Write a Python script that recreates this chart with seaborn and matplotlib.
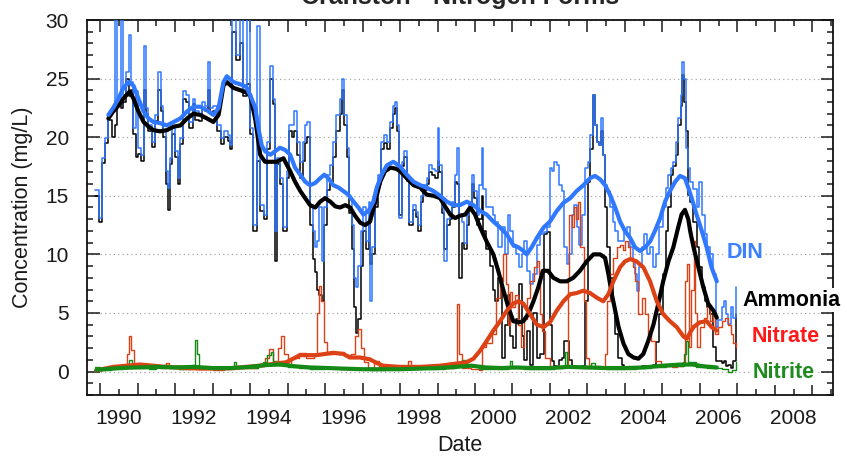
import numpy as np
import pandas as pd
import matplotlib
matplotlib.use("Agg")
import matplotlib.pyplot as plt
import seaborn as sns
from matplotlib.ticker import MultipleLocator, FixedLocator, FuncFormatter

# ---------------- data ----------------
sample_dates = [
    1989.37, 1989.48, 1989.55, 1989.64, 1989.72, 1989.81, 1989.90, 1989.96, 1990.05, 1990.12,
    1990.20, 1990.28, 1990.33, 1990.39, 1990.46, 1990.52, 1990.59, 1990.66, 1990.72, 1990.79,
    1990.88, 1990.97, 1991.04, 1991.12, 1991.19, 1991.25, 1991.31, 1991.37, 1991.43, 1991.50,
    1991.57, 1991.64, 1991.71, 1991.79, 1991.88, 1991.97, 1992.04, 1992.13, 1992.21, 1992.30,
    1992.37, 1992.44, 1992.52, 1992.63, 1992.72, 1992.81, 1992.90, 1992.97, 1993.02, 1993.12,
    1993.22, 1993.30, 1993.41, 1993.50, 1993.59, 1993.68, 1993.77, 1993.86, 1993.95, 1994.04,
    1994.11, 1994.17, 1994.23, 1994.30, 1994.39, 1994.48, 1994.55, 1994.62, 1994.68, 1994.75,
    1994.82, 1994.90, 1994.97, 1995.03, 1995.10, 1995.17, 1995.24, 1995.28, 1995.35, 1995.41,
    1995.48, 1995.55, 1995.62, 1995.71, 1995.80, 1995.89, 1995.95, 1996.01, 1996.08, 1996.15,
    1996.21, 1996.28, 1996.33, 1996.39, 1996.45, 1996.52, 1996.59, 1996.66, 1996.70, 1996.75,
    1996.84, 1996.92, 1996.99, 1997.06, 1997.15, 1997.24, 1997.31, 1997.37, 1997.43, 1997.48,
    1997.55, 1997.61, 1997.68, 1997.75, 1997.84, 1997.93, 1997.99, 1998.05, 1998.12, 1998.21,
    1998.28, 1998.35, 1998.44, 1998.50, 1998.55, 1998.62, 1998.68, 1998.75, 1998.82, 1998.89,
    1998.97, 1999.03, 1999.08, 1999.15, 1999.21, 1999.28, 1999.35, 1999.42, 1999.48, 1999.55,
    1999.62, 1999.68, 1999.72, 1999.80, 1999.90, 1999.97, 2000.03, 2000.12, 2000.21, 2000.30,
    2000.37, 2000.44, 2000.51, 2000.60, 2000.68, 2000.75, 2000.81, 2000.88, 2000.97, 2001.06,
    2001.15, 2001.24, 2001.33, 2001.41, 2001.49, 2001.55, 2001.61, 2001.68, 2001.75, 2001.82,
    2001.88, 2001.95, 2002.02, 2002.08, 2002.14, 2002.21, 2002.28, 2002.35, 2002.44, 2002.52,
    2002.58, 2002.64, 2002.70, 2002.75, 2002.80, 2002.86, 2002.91, 2002.97, 2003.03, 2003.10,
    2003.17, 2003.24, 2003.32, 2003.41, 2003.48, 2003.55, 2003.64, 2003.71, 2003.76, 2003.81,
    2003.88, 2003.95, 2004.01, 2004.08, 2004.17, 2004.26, 2004.33, 2004.42, 2004.51, 2004.60,
    2004.66, 2004.72, 2004.79, 2004.86, 2004.92, 2004.99, 2005.03, 2005.08, 2005.13, 2005.19,
    2005.24, 2005.32, 2005.41, 2005.48, 2005.55, 2005.64, 2005.70, 2005.77, 2005.86, 2005.93,
    2005.99, 2006.08, 2006.14, 2006.20, 2006.26, 2006.32, 2006.39, 2006.46,
]

din_raw = [
    15.5, 13.1, 18.2, 19.9, 21.9, 22.2, 31.0, 23.3, 31.0, 23.6,
    25.6, 28.7, 24.7, 20.8, 23.9, 19.1, 18.5, 27.8, 22.5, 21.0,
    19.6, 21.9, 25.6, 22.7, 20.5, 17.1, 15.7, 18.2, 20.8, 18.8,
    16.5, 19.9, 23.9, 23.6, 21.3, 23.3, 22.2, 21.9, 23.0, 22.7,
    26.4, 22.5, 22.7, 21.0, 19.9, 20.5, 20.2, 19.3, 31.0, 27.0,
    31.0, 24.0, 31.0, 20.8, 12.5, 29.5, 14.2, 13.4, 19.6, 26.1,
    23.3, 12.0, 18.2, 16.5, 12.3, 17.1, 21.0, 21.0, 22.2, 19.6,
    17.9, 19.6, 21.0, 21.3, 14.2, 12.0, 10.6, 11.1, 14.0, 9.4,
    14.0, 16.8, 17.6, 19.6, 21.9, 23.3, 25.0, 21.9, 19.1, 14.8,
    12.5, 8.0, 7.2, 9.0, 12.0, 14.0, 11.1, 14.5, 6.0, 10.6,
    14.8, 16.8, 19.6, 20.2, 19.6, 21.3, 22.7, 23.0, 21.0, 13.1,
    17.9, 18.8, 16.8, 12.8, 14.2, 13.6, 12.5, 15.0, 15.9, 16.5,
    17.6, 17.3, 17.1, 20.8, 17.6, 14.0, 9.4, 13.0, 13.6, 14.5,
    16.8, 19.1, 13.4, 12.8, 11.0, 13.4, 14.5, 16.8, 15.4, 13.4,
    15.9, 19.1, 15.6, 14.0, 14.0, 13.4, 12.8, 10.6, 12.3, 10.0,
    13.4, 12.0, 10.6, 10.0, 8.9, 10.0, 11.1, 8.6, 7.5, 8.3,
    10.8, 11.7, 11.9, 12.3, 17.4, 17.1, 17.9, 17.6, 15.9, 15.4,
    10.6, 9.2, 10.0, 13.4, 14.2, 12.3, 10.8, 13.4, 17.4, 17.9,
    20.2, 23.6, 21.0, 19.6, 19.3, 21.6, 18.5, 15.9, 15.4, 14.0,
    12.8, 12.0, 11.1, 11.1, 12.0, 12.3, 10.6, 9.4, 8.3, 6.9,
    8.9, 10.6, 11.7, 10.0, 10.6, 8.9, 10.0, 12.3, 14.0, 15.7,
    16.8, 17.4, 17.9, 19.6, 21.6, 23.6, 26.4, 25.0, 19.1, 17.4,
    16.2, 15.6, 14.0, 16.2, 13.4, 11.7, 10.6, 10.0, 8.3, 3.8,
    4.4, 5.5, 6.0, 4.9, 4.1, 5.5, 4.6, 7.2,
]

nh4_raw = [
    15.0, 12.8, 17.8, 19.5, 21.5, 20.0, 21.0, 22.8, 22.5, 23.0,
    25.0, 23.5, 24.0, 20.3, 18.3, 18.6, 18.0, 24.0, 22.0, 20.5,
    19.2, 21.4, 24.0, 22.2, 20.0, 16.0, 13.8, 17.7, 20.3, 18.3,
    16.0, 19.4, 23.3, 23.0, 20.8, 22.8, 21.5, 21.4, 22.5, 22.2,
    24.0, 22.0, 22.2, 20.5, 19.4, 20.0, 19.7, 19.0, 29.0, 26.6,
    28.0, 23.5, 24.5, 20.3, 12.0, 18.0, 13.7, 13.0, 19.0, 25.0,
    22.8, 9.4, 17.7, 16.0, 12.0, 16.5, 20.5, 20.0, 20.5, 18.5,
    16.5, 18.0, 19.5, 20.0, 12.5, 9.6, 8.5, 7.0, 6.5, 6.0,
    12.5, 15.5, 16.2, 18.3, 20.5, 22.0, 24.0, 21.0, 18.3, 13.5,
    10.5, 5.5, 3.3, 4.5, 9.0, 12.0, 10.5, 13.0, 9.2, 10.0,
    14.0, 16.0, 19.0, 19.5, 19.0, 20.8, 22.0, 22.5, 20.5, 13.4,
    17.5, 18.3, 16.3, 12.5, 13.8, 13.2, 12.0, 14.5, 15.5, 16.0,
    17.0, 16.8, 16.5, 18.0, 17.0, 13.5, 10.5, 12.5, 13.0, 14.0,
    16.2, 16.0, 8.0, 11.0, 10.5, 12.5, 13.8, 16.0, 14.8, 12.5,
    13.0, 15.0, 12.0, 10.5, 9.0, 7.0, 6.0, 8.0, 1.2, 4.0,
    6.5, 3.0, 2.0, 4.5, 7.5, 3.0, 1.0, 3.5, 0.6, 5.0,
    1.2, 1.5, 11.7, 11.9, 4.0, 0.9, 0.5, 0.4, 1.0, 1.2,
    2.6, 2.6, 1.0, 0.5, 0.3, 0.3, 0.3, 0.5, 6.0, 16.2,
    19.0, 23.6, 21.0, 19.6, 19.3, 20.5, 18.5, 14.0, 10.6, 8.0,
    5.8, 3.2, 1.2, 0.6, 0.4, 0.3, 0.3, 0.3, 0.3, 0.3,
    0.4, 0.5, 0.5, 0.4, 0.5, 0.6, 2.5, 4.9, 8.3, 12.0,
    14.0, 16.8, 17.5, 18.5, 21.0, 22.7, 25.3, 23.0, 20.5, 15.1,
    14.5, 12.8, 10.6, 8.9, 7.2, 6.0, 5.5, 4.9, 2.1, 0.9,
    0.9, 0.7, 0.9, 0.5, 0.6, 0.3, 0.9, 4.9,
]

no3_dates = [
    1989.37, 1989.60, 1989.85, 1990.10, 1990.22, 1990.27, 1990.33, 1990.40, 1990.60, 1990.90,
    1991.10, 1991.25, 1991.35, 1991.60, 1991.90, 1992.20, 1992.50, 1992.80, 1993.10, 1993.40,
    1993.70, 1993.90, 1994.00, 1994.10, 1994.25, 1994.33, 1994.40, 1994.50, 1994.60, 1994.80,
    1995.00, 1995.20, 1995.28, 1995.33, 1995.40, 1995.47, 1995.55, 1995.75, 1996.00, 1996.20,
    1996.30, 1996.38, 1996.45, 1996.55, 1996.65, 1996.80, 1996.95, 1997.20, 1997.50, 1997.72,
    1997.80, 1998.10, 1998.40, 1998.70, 1998.95, 1999.03, 1999.08, 1999.15, 1999.40, 1999.60,
    1999.68, 1999.80, 1999.95, 2000.05, 2000.17, 2000.26, 2000.32, 2000.38, 2000.43, 2000.50,
    2000.58, 2000.66, 2000.72, 2000.80, 2000.88, 2000.97, 2001.08, 2001.15, 2001.20, 2001.24,
    2001.30, 2001.38, 2001.50, 2001.70, 2001.90, 2001.98, 2002.02, 2002.08, 2002.14, 2002.20,
    2002.26, 2002.31, 2002.40, 2002.46, 2002.55, 2002.70, 2002.85, 2002.97, 2003.03, 2003.10,
    2003.19, 2003.28, 2003.37, 2003.44, 2003.50, 2003.57, 2003.64, 2003.71, 2003.77, 2003.86,
    2003.95, 2004.03, 2004.12, 2004.20, 2004.30, 2004.45, 2004.60, 2004.75, 2004.90, 2005.05,
    2005.10, 2005.15, 2005.20, 2005.26, 2005.33, 2005.37, 2005.42, 2005.50, 2005.60, 2005.68,
    2005.76, 2005.84, 2005.90, 2005.99, 2006.08, 2006.17, 2006.26, 2006.32, 2006.39, 2006.46,
]
no3_raw = [
    0.1, 0.2, 0.3, 0.4, 1.5, 3.0, 1.8, 0.5, 0.6, 0.4,
    0.3, 0.7, 0.4, 0.2, 0.3, 0.2, 0.1, 0.2, 0.3, 0.3,
    0.5, 1.2, 1.9, 0.8, 2.0, 3.0, 1.5, 0.5, 1.2, 1.6,
    1.2, 1.5, 5.0, 7.3, 6.0, 2.5, 1.5, 1.7, 1.4, 1.5,
    3.0, 3.6, 2.0, 0.8, 0.3, 0.9, 0.4, 0.2, 0.3, 0.9,
    0.3, 0.3, 0.4, 0.3, 0.6, 5.8, 1.5, 0.3, 0.2, 0.1,
    2.1, 2.4, 3.2, 6.3, 7.7, 10.0, 7.5, 4.0, 6.8, 5.5,
    6.5, 4.0, 2.1, 4.5, 6.3, 7.7, 8.9, 9.4, 8.3, 4.9,
    3.5, 1.2, 0.4, 0.5, 0.6, 8.0, 13.4, 12.3, 14.0, 13.0,
    14.5, 10.6, 6.0, 1.2, 0.4, 0.5, 0.4, 1.5, 6.0, 8.3,
    9.7, 10.6, 10.8, 10.4, 11.1, 10.6, 9.7, 8.9, 7.7, 4.9,
    6.3, 4.9, 3.2, 2.6, 0.9, 0.6, 0.5, 0.4, 0.5, 0.8,
    7.7, 9.2, 2.1, 7.0, 11.1, 5.0, 2.1, 3.8, 4.6, 5.5,
    4.3, 4.9, 3.2, 3.8, 4.3, 4.6, 4.0, 3.2, 2.4, 2.1,
]

no2_dates = [
    1989.37, 1989.50, 1989.80, 1990.10, 1990.22, 1990.28, 1990.35, 1990.50, 1990.80, 1991.00,
    1991.20, 1991.35, 1991.60, 1991.95, 1992.02, 1992.08, 1992.15, 1992.40, 1992.70, 1993.00,
    1993.07, 1993.12, 1993.40, 1993.70, 1993.85, 1993.95, 1994.05, 1994.12, 1994.25, 1994.50,
    1994.80, 1995.10, 1995.50, 1995.90, 1996.30, 1996.70, 1997.10, 1997.50, 1997.90, 1998.30,
    1998.70, 1999.00, 1999.15, 1999.30, 1999.60, 2000.00, 2000.38, 2000.43, 2000.48, 2000.80,
    2001.20, 2001.60, 2001.85, 2001.90, 2001.95, 2002.30, 2002.60, 2002.70, 2003.00, 2003.40,
    2003.80, 2004.20, 2004.60, 2004.90, 2005.08, 2005.13, 2005.18, 2005.40, 2005.70, 2005.95,
    2006.10, 2006.25, 2006.35, 2006.46,
]
no2_raw = [
    0.4, 0.1, 0.2, 0.3, 0.6, 1.0, 0.5, 0.3, 0.2, 0.5,
    0.6, 0.3, 0.2, 0.6, 2.7, 1.5, 0.4, 0.2, 0.2, 0.3,
    0.8, 0.3, 0.3, 0.6, 0.8, 1.4, 1.7, 0.9, 0.6, 0.4,
    0.3, 0.2, 0.3, 0.2, 0.2, 0.1, 0.2, 0.2, 0.3, 0.2,
    0.3, 0.6, 1.0, 0.5, 0.2, 0.2, 0.4, 0.9, 0.3, 0.2,
    0.2, 0.3, 0.5, 1.7, 0.5, 0.3, 0.7, 0.3, 0.2, 0.2,
    0.3, 0.4, 0.5, 0.5, 1.5, 2.6, 0.8, 0.4, 0.3, 0.3,
    0.2, 0.0, 0.1, 0.8,
]

# running-average curves (thick lines)
din_smooth_x = [
    1989.72, 1989.85, 1989.99, 1990.12, 1990.26, 1990.39, 1990.52, 1990.66, 1990.79, 1990.92,
    1991.10, 1991.28, 1991.46, 1991.64, 1991.82, 1991.99, 1992.17, 1992.35, 1992.52, 1992.66,
    1992.79, 1992.88, 1993.06, 1993.25, 1993.40, 1993.50, 1993.64, 1993.72, 1993.81, 1993.90,
    1994.04, 1994.17, 1994.30, 1994.44, 1994.57, 1994.70, 1994.84, 1994.97, 1995.10, 1995.24,
    1995.37, 1995.48, 1995.59, 1995.72, 1995.86, 1995.99, 1996.12, 1996.26, 1996.39, 1996.52,
    1996.66, 1996.79, 1996.88, 1997.01, 1997.15, 1997.32, 1997.50, 1997.68, 1997.86, 1998.04,
    1998.21, 1998.39, 1998.57, 1998.75, 1998.93, 1999.10, 1999.28, 1999.46, 1999.64, 1999.81,
    1999.99, 2000.17, 2000.35, 2000.52, 2000.66, 2000.79, 2000.88, 2001.01, 2001.15, 2001.33,
    2001.50, 2001.68, 2001.86, 2002.04, 2002.21, 2002.39, 2002.57, 2002.70, 2002.84, 2002.97,
    2003.10, 2003.24, 2003.37, 2003.50, 2003.64, 2003.77, 2003.90, 2004.04, 2004.17, 2004.30,
    2004.44, 2004.57, 2004.70, 2004.84, 2004.97, 2005.10, 2005.20, 2005.28, 2005.41, 2005.55,
    2005.68, 2005.81, 2005.95,
]
din_smooth = [
    21.9, 22.5, 23.3, 24.2, 24.7, 24.4, 23.3, 22.2, 21.6, 21.3,
    21.2, 21.0, 21.3, 21.6, 22.2, 22.6, 22.6, 22.3, 21.9, 22.5,
    24.7, 25.2, 24.7, 24.5, 24.3, 23.6, 22.5, 20.8, 19.3, 18.8,
    18.5, 18.8, 19.1, 18.9, 18.5, 17.4, 16.8, 16.2, 15.9, 16.1,
    16.5, 16.8, 16.5, 15.9, 15.7, 15.4, 15.1, 14.5, 14.0, 13.4,
    13.7, 14.5, 15.7, 16.8, 17.6, 17.9, 17.5, 16.8, 16.2, 15.9,
    15.7, 15.4, 15.0, 14.5, 14.2, 14.2, 14.5, 14.2, 13.7, 13.4,
    12.8, 12.3, 11.7, 10.8, 10.6, 10.3, 10.0, 10.6, 11.4, 12.3,
    12.8, 13.7, 14.4, 14.8, 15.4, 15.9, 16.5, 16.7, 16.4, 15.9,
    15.1, 14.0, 12.8, 12.0, 11.4, 10.6, 10.3, 10.6, 11.1, 12.0,
    13.1, 14.5, 15.4, 16.2, 16.7, 16.5, 15.6, 14.8, 13.4, 12.0,
    10.6, 8.9, 7.7,
]

nh4_smooth_x = [
    1989.72, 1989.85, 1989.99, 1990.12, 1990.29, 1990.39, 1990.52, 1990.66, 1990.79, 1990.92,
    1991.10, 1991.28, 1991.46, 1991.64, 1991.82, 1991.99, 1992.17, 1992.35, 1992.52, 1992.66,
    1992.79, 1992.88, 1993.06, 1993.25, 1993.40, 1993.50, 1993.64, 1993.77, 1993.90, 1994.04,
    1994.21, 1994.39, 1994.57, 1994.70, 1994.84, 1994.97, 1995.10, 1995.24, 1995.37, 1995.50,
    1995.64, 1995.77, 1995.90, 1996.04, 1996.17, 1996.30, 1996.44, 1996.57, 1996.70, 1996.84,
    1996.97, 1997.10, 1997.25, 1997.40, 1997.50, 1997.68, 1997.86, 1998.04, 1998.21, 1998.39,
    1998.57, 1998.70, 1998.84, 1998.97, 1999.10, 1999.24, 1999.37, 1999.50, 1999.64, 1999.81,
    1999.99, 2000.12, 2000.26, 2000.39, 2000.52, 2000.66, 2000.79, 2000.92, 2001.06, 2001.19,
    2001.31, 2001.45, 2001.59, 2001.77, 2001.95, 2002.12, 2002.30, 2002.48, 2002.66, 2002.84,
    2002.97, 2003.06, 2003.15, 2003.24, 2003.33, 2003.46, 2003.59, 2003.73, 2003.86, 2003.99,
    2004.12, 2004.26, 2004.39, 2004.52, 2004.66, 2004.79, 2004.92, 2005.01, 2005.10, 2005.19,
    2005.24, 2005.33, 2005.46, 2005.59, 2005.72, 2005.86, 2005.95,
]
nh4_smooth = [
    21.6, 22.2, 22.7, 23.3, 23.9, 23.3, 22.2, 21.3, 20.9, 20.6,
    20.5, 20.6, 20.9, 21.0, 21.6, 22.0, 21.9, 21.6, 21.3, 21.9,
    24.4, 24.7, 24.2, 24.0, 23.8, 23.6, 21.5, 18.5, 17.9, 17.9,
    17.9, 18.2, 17.1, 16.2, 15.4, 14.8, 14.2, 14.0, 14.5, 14.8,
    14.5, 14.1, 14.0, 14.2, 14.0, 13.3, 12.7, 12.5, 12.8, 14.5,
    16.2, 17.1, 17.4, 17.3, 17.1, 16.5, 15.9, 15.7, 15.1, 15.0,
    14.8, 14.1, 13.4, 13.1, 13.3, 13.4, 14.0, 13.4, 12.3, 11.1,
    10.0, 8.6, 6.9, 5.5, 4.3, 4.2, 4.3, 4.9, 6.0, 7.2,
    8.6, 8.6, 8.0, 7.7, 7.7, 8.0, 8.6, 9.4, 10.0, 10.0,
    9.7, 8.3, 6.6, 5.2, 3.8, 2.4, 1.5, 1.2, 1.1, 1.5,
    2.6, 4.0, 5.8, 7.7, 9.4, 10.6, 12.3, 13.4, 13.8, 13.0,
    12.0, 10.6, 8.9, 7.2, 5.8, 5.2, 4.6,
]

no3_smooth_x = [
    1989.40, 1989.85, 1990.56, 1991.27, 1992.16, 1993.05, 1993.76, 1994.47, 1994.65, 1994.83,
    1995.27, 1995.72, 1995.99, 1996.16, 1996.43, 1996.69, 1996.87, 1997.05, 1997.49, 1998.04,
    1998.57, 1998.93, 1999.28, 1999.46, 1999.64, 1999.81, 1999.99, 2000.17, 2000.35, 2000.52,
    2000.66, 2000.79, 2000.97, 2001.15, 2001.33, 2001.50, 2001.68, 2001.86, 2002.04, 2002.21,
    2002.39, 2002.57, 2002.75, 2002.92, 2003.06, 2003.19, 2003.37, 2003.50, 2003.64, 2003.81,
    2003.99, 2004.17, 2004.35, 2004.52, 2004.70, 2004.88, 2005.06, 2005.15, 2005.25, 2005.33,
    2005.50, 2005.68, 2005.81, 2005.95,
]
no3_smooth = [
    0.1, 0.4, 0.6, 0.4, 0.25, 0.3, 0.5, 0.8, 1.1, 1.4,
    1.4, 1.6, 1.5, 1.2, 1.2, 1.05, 0.75, 0.5, 0.4, 0.4,
    0.5, 0.65, 0.8, 1.1, 1.8, 2.6, 3.5, 4.3, 5.2, 5.8,
    6.0, 5.8, 4.9, 4.0, 3.8, 4.2, 5.2, 6.0, 6.6, 6.7,
    6.9, 6.7, 6.3, 6.0, 6.6, 7.7, 8.9, 9.4, 9.6, 9.4,
    8.9, 7.7, 6.0, 4.9, 4.3, 3.8, 3.0, 2.8, 3.4, 3.8,
    4.2, 4.3, 3.8, 3.5,
]

no2_smooth_x = [
    1989.40, 1990.00, 1990.50, 1991.00, 1991.50, 1992.00, 1992.50, 1993.00, 1993.50, 1993.90,
    1994.30, 1994.70, 1995.10, 1995.60, 1996.00, 1996.50, 1997.00, 1997.50, 1998.00, 1998.50,
    1999.00, 1999.40, 1999.80, 2000.20, 2000.60, 2001.00, 2001.50, 2002.00, 2002.50, 2003.00,
    2003.50, 2004.00, 2004.50, 2005.00, 2005.30, 2005.60, 2005.95,
]
no2_smooth = [
    0.15, 0.3, 0.35, 0.4, 0.35, 0.4, 0.3, 0.3, 0.4, 0.55,
    0.6, 0.45, 0.35, 0.3, 0.25, 0.2, 0.2, 0.2, 0.25, 0.3,
    0.4, 0.5, 0.35, 0.3, 0.35, 0.3, 0.3, 0.4, 0.35, 0.3,
    0.3, 0.35, 0.5, 0.6, 0.6, 0.45, 0.35,
]

year_ticks = [1990, 1992, 1994, 1996, 1998, 2000, 2002, 2004, 2006, 2008]
y_ticks = [0, 5, 10, 15, 20, 25, 30]

series_labels = ["DIN", "Ammonia", "Nitrate", "Nitrite"]
label_pos_x = [2006.2, 2006.64, 2006.88, 2006.91]
label_pos_y = [10.15, 6.1, 3.0, -0.1]

# ---------------- style ----------------
sns.set_style("ticks")
plt.rcParams["font.family"] = ["Liberation Sans", "DejaVu Sans"]

BLUE = "#2f78ff"
BLACK = "#000000"
RED = "#dc4215"
GREEN = "#168a16"
label_colors = ["#3a80ff", "#000000", "#ff1a1a", "#1e8c1e"]

fig = plt.figure(figsize=(8.47, 4.61), dpi=100)
ax = fig.add_axes([87 / 847, 66 / 461, (833 - 87) / 847, (395 - 20) / 461])


def line(x, y, color, lw, steps, z):
    kw = dict(drawstyle="steps-post") if steps else {}
    sns.lineplot(x=x, y=y, ax=ax, color=color, linewidth=lw, estimator=None,
                 sort=False, legend=False, zorder=z, **kw)


# thin raw lines
line(sample_dates, nh4_raw, BLACK, 1.1, True, 2)
line(sample_dates, din_raw, BLUE, 1.1, True, 3)
line(no3_dates, no3_raw, RED, 1.0, True, 4)
line(no2_dates, no2_raw, GREEN, 1.0, True, 5)
# thick running means
line(nh4_smooth_x, nh4_smooth, BLACK, 3.0, False, 6)
line(no3_smooth_x, no3_smooth, RED, 3.0, False, 7)
line(din_smooth_x, din_smooth, BLUE, 3.0, False, 8)
line(no2_smooth_x, no2_smooth, GREEN, 3.0, False, 9)

ax.set_xlim(1989.15, 2009.05)
ax.set_ylim(-2, 30)

# x ticks: short ticks on whole years, long ticks on half years
ax.xaxis.set_major_locator(MultipleLocator(1))
ax.xaxis.set_minor_locator(FixedLocator(np.arange(1989.5, 2009.0, 1.0)))
ax.xaxis.set_major_formatter(FuncFormatter(
    lambda v, p: f"{int(round(v))}" if int(round(v)) in year_ticks else ""))
ax.yaxis.set_major_locator(FixedLocator(y_ticks))
ax.yaxis.set_minor_locator(MultipleLocator(1))

ax.tick_params(axis="x", which="major", direction="in", length=4.5, width=1.1,
               top=True, bottom=True, labelsize=15, pad=10, colors="#1a1a1a")
ax.tick_params(axis="x", which="minor", direction="in", length=8.5, width=1.1,
               top=True, bottom=True, colors="#1a1a1a")
ax.tick_params(axis="y", which="major", direction="in", length=9, width=1.1,
               left=True, right=True, labelsize=15, pad=13, colors="#1a1a1a")
ax.tick_params(axis="y", which="minor", direction="in", length=4.3, width=1.1,
               left=True, right=True, colors="#1a1a1a")

for s in ax.spines.values():
    s.set_linewidth(1.3)
    s.set_color("#111111")

ax.yaxis.grid(True, which="major", linestyle=(0, (1, 2.5)), color="#a8a8a8", linewidth=0.9)
ax.set_axisbelow(True)

ax.set_xlabel("Date", fontsize=15.5, labelpad=5, color="#1a1a1a")
ax.set_ylabel("Concentration (mg/L)", fontsize=15.5, labelpad=9, color="#1a1a1a")

for name, xx, yy, c in zip(series_labels, label_pos_x, label_pos_y, label_colors):
    ax.text(xx, yy, name, color=c, fontsize=15.5, fontweight="bold", ha="left",
            va="center", zorder=20, clip_on=False,
            bbox=dict(facecolor="white", edgecolor="none", pad=1.0))

fig.text(0.543, 1 - 4 / 461, "Cranston - Nitrogen Forms", ha="center", va="baseline",
         fontsize=18, fontweight="bold")

fig.savefig("out.png", dpi=100)
